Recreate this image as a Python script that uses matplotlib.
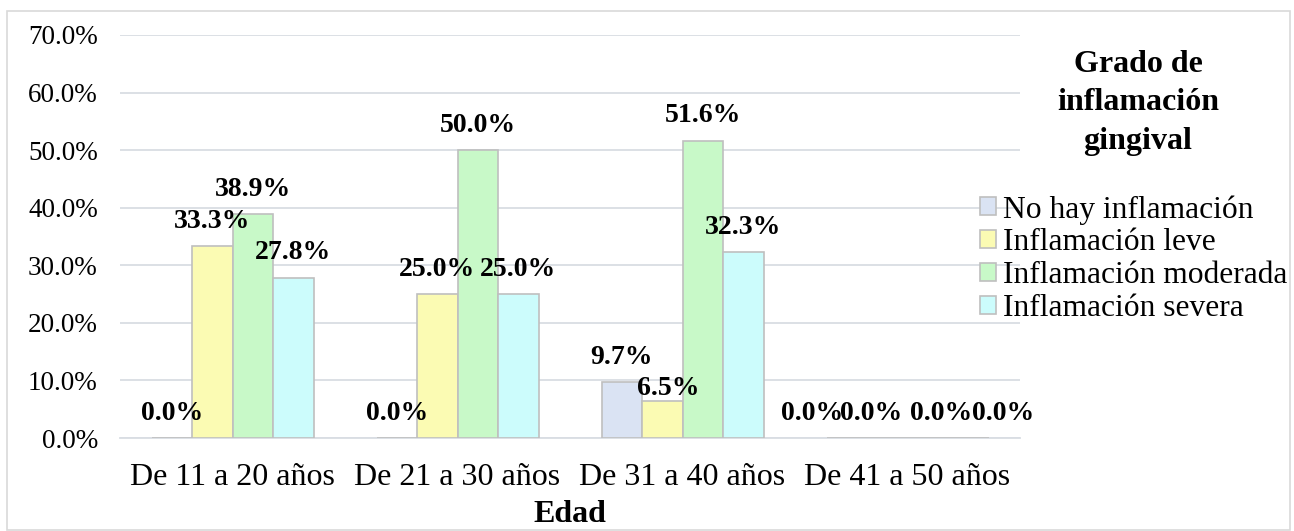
import numpy as np
import matplotlib.pyplot as plt
from matplotlib.patches import Rectangle

plt.rcParams['font.family'] = ['Liberation Serif', 'DejaVu Serif']

grupos = ["De 11 a 20 años", "De 21 a 30 años", "De 31 a 40 años", "De 41 a 50 años"]
series = ["No hay inflamación", "Inflamación leve", "Inflamación moderada", "Inflamación severa"]
no_hay = [0.0, 0.0, 9.7, 0.0]
leve = [33.3, 25.0, 6.5, 0.0]
moderada = [38.9, 50.0, 51.6, 0.0]
severa = [27.8, 25.0, 32.3, 0.0]

valores = [no_hay, leve, moderada, severa]
colores = ["#dae3f3", "#fbfbb3", "#c8f9c8", "#ccfcfc"]

# label nudges (points) where labels would collide: (serie, grupo) -> (dx, dy)
ajustes = {
    (1, 2): (4, 9),
    (0, 3): (-25, 18), (1, 3): (-11.5, 18), (2, 3): (9.5, 18), (3, 3): (25, 18),
}

fig = plt.figure(figsize=(12.94, 5.31), dpi=100)
ax = fig.add_axes([120 / 1294, 1 - 438 / 531, 900 / 1294, 403 / 531])

x = np.arange(len(grupos))
ancho = 0.18
offs = [-1.5, -0.5, 0.5, 1.5]

for k in range(4):
    barras = ax.bar(x + offs[k] * ancho, valores[k], ancho, color=colores[k],
                    edgecolor="#bfbfbf", linewidth=1.2, label=series[k], zorder=3)
    for i, b in enumerate(barras):
        dx, dy = ajustes.get((k, i), (0, 18))
        ax.annotate("%.1f%%" % valores[k][i], (b.get_x() + b.get_width() / 2, b.get_height()),
                    xytext=(dx, dy), textcoords="offset points", ha="center", va="center",
                    fontsize=20, fontweight="bold", zorder=5)

ax.set_xlim(-0.5, 3.5)
ax.set_ylim(0, 70)
ax.set_yticks(np.arange(0, 71, 10))
ax.set_yticklabels(["%.1f%%" % v for v in np.arange(0, 71, 10)], fontsize=19.5)
ax.set_xticks(x)
ax.set_xticklabels(grupos, fontsize=23)
ax.tick_params(length=0)
ax.tick_params(axis="y", pad=16)
ax.tick_params(axis="x", pad=18)
ax.grid(axis="y", color="#d9dde3", linewidth=1.3, zorder=0)
for s in ["top", "right", "left"]:
    ax.spines[s].set_visible(False)
ax.spines["bottom"].set_color("#d9dde3")
ax.spines["bottom"].set_linewidth(1.3)
ax.set_xlabel("Edad", fontsize=23, fontweight="bold", labelpad=6)

fig.text(1138 / 1294, 1 - 103 / 531, "Grado de\ninflamación\ngingival", ha="center", va="center",
         fontsize=23, fontweight="bold", linespacing=1.42)
fig.legend(loc="upper left", bbox_to_anchor=(980 / 1294, 1 - 195 / 531), frameon=False,
           fontsize=22.7, handlelength=0.5, handleheight=0.5, handletextpad=0.22,
           labelspacing=0.12, borderaxespad=0, borderpad=0)

# thin frame round the whole chart
fig.patches.append(Rectangle((7 / 1294, 1 / 531), 1283 / 1294, 519 / 531, transform=fig.transFigure,
                             fill=False, edgecolor="#d9d9d9", linewidth=1.2))

fig.savefig("out.png", dpi=100)
